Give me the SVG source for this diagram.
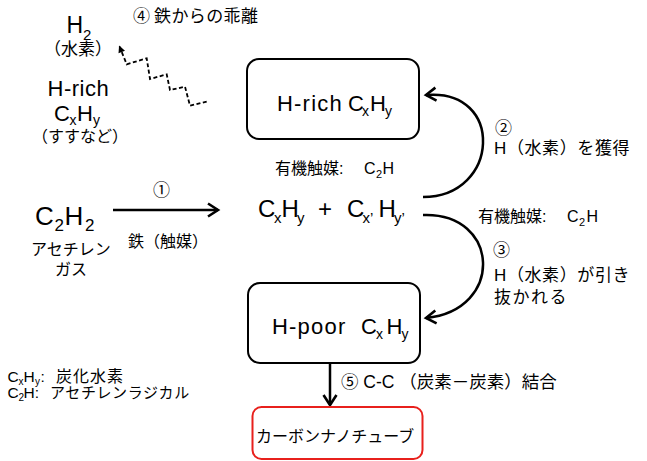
<svg xmlns="http://www.w3.org/2000/svg" width="647" height="461" viewBox="0 0 647 461">
<style>
.t { font-family: "Liberation Sans", "Noto Sans CJK JP", sans-serif; fill: #000; }
.box { fill: #fff; stroke: #000; stroke-width: 2; }
.red { fill: #fff; stroke: #e8201c; stroke-width: 2; }
.arrow { fill: none; stroke: #000; stroke-width: 2.5; marker-end: url(#chev); }
.wave { fill: none; stroke: #000; stroke-width: 1.8; stroke-dasharray: 4 2.5; marker-end: url(#tri); }
</style>
<defs>
<marker id="chev" markerUnits="userSpaceOnUse" markerWidth="24" markerHeight="24" refX="0" refY="0" orient="auto" overflow="visible">
<path d="M-10,-6.5 L0,0 L-10,6.5" fill="none" stroke="#000" stroke-width="2.6"/>
</marker>
<marker id="tri" markerUnits="userSpaceOnUse" markerWidth="16" markerHeight="16" refX="0" refY="0" orient="auto" overflow="visible">
<path d="M1,0 L-6,-3.5 L-6,3.5 Z" fill="#000"/>
</marker>
</defs>
<rect width="647" height="461" fill="#fff"/>

<g id="connectors">
<path class="arrow" d="M113,210 L218,210"/>
<path class="arrow" d="M423,197 C500,197 505,88 426,95"/>
<path class="arrow" d="M423,215 C500,212 505,310 426,318"/>
<path class="arrow" d="M330,364 L330,405"/>
<path class="wave" d="M206.7,101.7 L190,105.7 L185,86.7 L170,90 L166.7,74.3 L150,79 L146.7,58.3 L126.7,64.3 L119.5,46.5"/>
</g>

<g id="labels">
<text class="t" x="133" y="22" font-size="17">④</text>
<text class="t" x="154" y="22" font-size="17" letter-spacing="0.4">鉄からの乖離</text>
<text class="t" x="153" y="196" font-size="17">①</text>
<text class="t" x="128" y="247" font-size="16">鉄（触媒）</text>
<text class="t" x="275" y="174" font-size="16">有機触媒:</text>
<text class="t" y="174" font-size="16"><tspan x="364">C</tspan><tspan x="376" y="178" font-size="11">2</tspan><tspan x="382.5" y="174">H</tspan></text>
<text class="t" x="478" y="222" font-size="16">有機触媒:</text>
<text class="t" y="222" font-size="16"><tspan x="567">C</tspan><tspan x="579" y="226" font-size="11">2</tspan><tspan x="586.5" y="222">H</tspan></text>
<text class="t" x="495" y="134" font-size="17">②</text>
<text class="t" x="494" y="154" font-size="17" letter-spacing="0.6">H（水素）を獲得</text>
<text class="t" x="493" y="256" font-size="17">③</text>
<text class="t" x="494" y="281" font-size="17" letter-spacing="0.6">H（水素）が引き</text>
<text class="t" x="494" y="303" font-size="17" letter-spacing="1.5">抜かれる</text>
<text class="t" x="341" y="388" font-size="17.5">⑤ C-C （炭素－炭素）結合</text>
</g>

<g id="acetylene">
<text class="t" y="225" font-size="26"><tspan x="35">C</tspan><tspan x="54.5" y="231" font-size="17">2</tspan><tspan x="64.5" y="225">H</tspan><tspan x="85" y="231" font-size="17">2</tspan></text>
<text class="t" x="31" y="255" font-size="16">アセチレン</text>
<text class="t" x="55" y="275" font-size="16">ガス</text>
</g>

<g id="hydrogen">
<text class="t" y="33" font-size="23"><tspan x="66.5">H</tspan><tspan x="83" y="40" font-size="15">2</tspan></text>
<text class="t" x="44" y="55" font-size="17">（水素）</text>
</g>

<g id="soot">
<text class="t" x="47.5" y="96" font-size="22" letter-spacing="0.5">H-rich</text>
<text class="t" y="121" font-size="22"><tspan x="54">C</tspan><tspan x="69.5" y="125" font-size="14">x</tspan><tspan x="77" y="121">H</tspan><tspan x="93" y="125" font-size="14">y</tspan></text>
<text class="t" x="32" y="142" font-size="16">（すすなど）</text>
</g>

<g id="hrich-box">
<rect class="box" x="247" y="59" width="172" height="80" rx="12"/>
<text class="t" x="277" y="111" font-size="22" letter-spacing="1.2">H-rich</text>
<text class="t" y="111" font-size="22"><tspan x="348">C</tspan><tspan x="362" y="116" font-size="14">x</tspan><tspan x="370" y="111">H</tspan><tspan x="385" y="116" font-size="14">y</tspan></text>
</g>

<g id="mixture">
<text class="t" y="217" font-size="24"><tspan x="258">C</tspan><tspan x="274" y="223" font-size="15">x</tspan><tspan x="281.5" y="217">H</tspan><tspan x="297" y="223" font-size="15">y</tspan><tspan x="318" y="217">+</tspan><tspan x="347">C</tspan><tspan x="362.5" y="223" font-size="15">x’</tspan><tspan x="378.5" y="217">H</tspan><tspan x="394" y="223" font-size="15">y’</tspan></text>
</g>

<g id="hpoor-box">
<rect class="box" x="248" y="283" width="172" height="80" rx="12"/>
<text class="t" x="272" y="334" font-size="22" letter-spacing="1.2">H-poor</text>
<text class="t" y="334" font-size="22"><tspan x="361">C</tspan><tspan x="376" y="339" font-size="14">x</tspan><tspan x="386.5" y="334">H</tspan><tspan x="401.5" y="339" font-size="14">y</tspan></text>
</g>

<g id="cnt">
<rect class="red" x="252.5" y="407" width="170" height="52" rx="9"/>
<text class="t" x="256" y="442" font-size="16">カーボンナノチューブ</text>
</g>

<g id="legend">
<text class="t" y="382" font-size="15.5"><tspan x="7.5">C</tspan><tspan x="18.5" y="384.5" font-size="10">x</tspan><tspan x="23.5" y="382">H</tspan><tspan x="35" y="384.5" font-size="10">y</tspan><tspan x="40.5" y="382">:</tspan><tspan x="56" font-size="16" letter-spacing="1">炭化水素</tspan></text>
<text class="t" y="398" font-size="15.5"><tspan x="7.5">C</tspan><tspan x="18.5" y="401" font-size="10">2</tspan><tspan x="23.5" y="398">H:</tspan><tspan x="50" font-size="15" letter-spacing="0.6">アセチレンラジカル</tspan></text>
</g>
</svg>
